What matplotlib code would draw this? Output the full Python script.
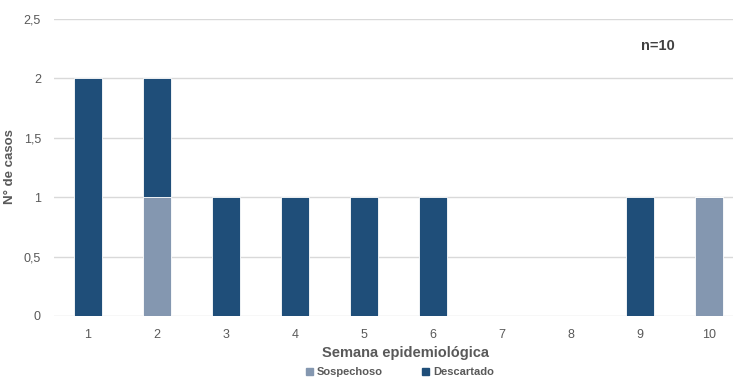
import matplotlib.pyplot as plt
from matplotlib.patches import Patch

plt.rcParams["font.family"] = ["Liberation Sans", "DejaVu Sans"]

# data
semanas = [1, 2, 3, 4, 5, 6, 7, 8, 9, 10]
sospechoso = [0, 1, 0, 0, 0, 0, 0, 0, 0, 1]
descartado = [2, 1, 1, 1, 1, 1, 0, 0, 1, 0]
y_ticks = [0, 0.5, 1, 1.5, 2, 2.5]
y_labels = ["0", "0,5", "1", "1,5", "2", "2,5"]

C_SOSP = "#8497B0"
C_DESC = "#1F4E79"
C_TEXT = "#595959"
W, H = 733, 378

fig = plt.figure(figsize=(W / 100, H / 100), dpi=100)
ax = fig.add_axes([53.5 / W, (H - 316) / H, 690 / W, 297 / H])

ax.bar(semanas, sospechoso, width=0.4, color=C_SOSP, edgecolor="white", linewidth=0.6)
ax.bar(semanas, descartado, width=0.4, bottom=sospechoso, color=C_DESC,
       edgecolor="white", linewidth=0.6)

ax.set_xlim(0.5, 10.5)
ax.set_ylim(0, 2.5)
ax.set_xticks(semanas)
ax.set_xticklabels([str(s) for s in semanas])
ax.set_yticks(y_ticks)
ax.set_yticklabels(y_labels)
ax.tick_params(length=0, colors=C_TEXT, labelsize=9, pad=9)
ax.yaxis.grid(True, color="#D9D9D9", linewidth=1)
ax.set_axisbelow(True)
for s in ax.spines.values():
    s.set_visible(False)

ax.set_xlabel("Semana epidemiológica", fontsize=10.5, fontweight="bold", color=C_TEXT)
ax.xaxis.set_label_coords((405 - 53.5) / 690, -(346 - 316) / 297)
ax.set_ylabel("N° de casos", fontsize=9.5, fontweight="bold", color=C_TEXT)
ax.yaxis.set_label_coords(-(53.5 - 16) / 690, (316 - 167) / 297)

fig.text(658 / W, 1 - 46 / H, "n=10", fontsize=10.5, fontweight="bold", color="#404040",
         ha="center", va="center")

handles = [Patch(color=C_SOSP, label="Sospechoso"), Patch(color=C_DESC, label="Descartado")]
fig.legend(handles=handles, loc="center", bbox_to_anchor=(400 / W, 1 - 372 / H), ncol=2,
           frameon=False, labelcolor=C_TEXT, handlelength=0.6, handleheight=0.6,
           columnspacing=3.5, handletextpad=0.4, prop={"weight": "bold", "size": 8})

fig.savefig("out.png", dpi=100)
